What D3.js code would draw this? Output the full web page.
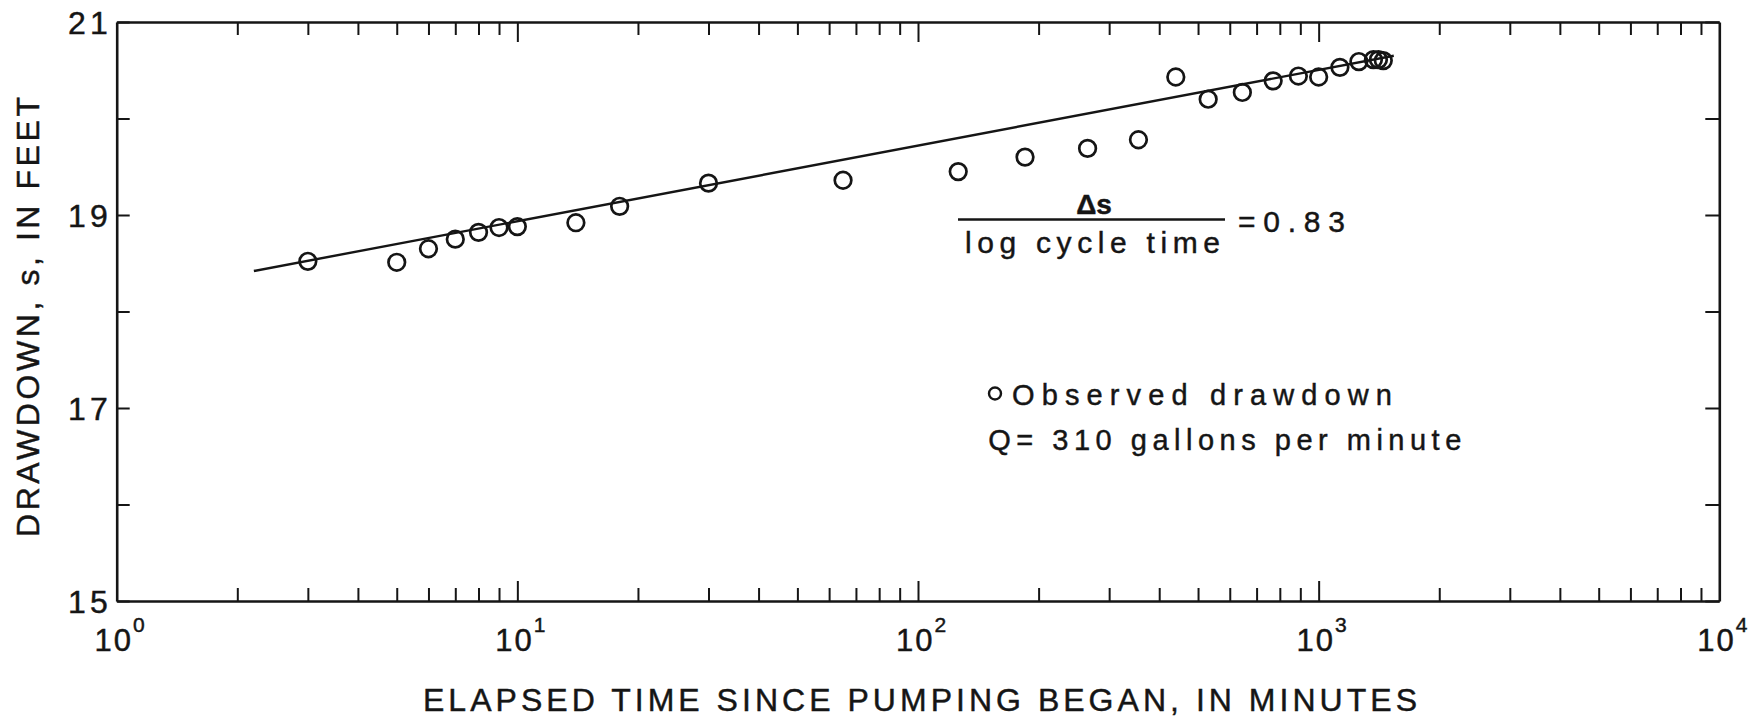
<!DOCTYPE html>
<html>
<head>
<meta charset="utf-8">
<script src="https://cdn.jsdelivr.net/npm/d3@7"></script>
<style>
  html, body { margin: 0; padding: 0; background: #ffffff; }
  svg { display: block; }
  text { font-family: "Liberation Sans", Arial, Helvetica, sans-serif; fill: #151515; stroke: #151515; stroke-width: 0.45px; }
</style>
</head>
<body>
<svg id="chart" width="1757" height="719"></svg>
<script>
// ---- data ----
const timeMin = [3, 5, 6, 7, 8, 9, 10, 14, 18, 30, 65, 126, 185, 265, 355, 440, 530, 645, 770, 890, 1000, 1130, 1260, 1370, 1410, 1450];
const drawdownFt = [18.52, 18.51, 18.65, 18.75, 18.82, 18.87, 18.88, 18.92, 19.09, 19.33, 19.36, 19.45, 19.60, 19.69, 19.78, 20.43, 20.20, 20.27, 20.39, 20.44, 20.43, 20.53, 20.59, 20.61, 20.61, 20.60];
const fitTime = [2.2, 1540];
const fitDrawdown = [18.42, 20.65];
const decades = [0, 1, 2, 3, 4];
const yTicks = [15, 16, 17, 18, 19, 20, 21];
const yLabelled = [15, 17, 19, 21];
const xTitle = "ELAPSED TIME SINCE PUMPING BEGAN, IN MINUTES";
const yTitle = "DRAWDOWN, s, IN FEET";
const slopeNum = "\u0394s";
const slopeDen = "log cycle time";
const slopeVal = "=0.83";
const legendLines = ["Observed drawdown", "Q= 310 gallons per minute"];

// ---- layout ----
const svg = d3.select("#chart");
const L = 116.7, R = 1719.3, T = 22, B = 601;
const x = d3.scaleLog().domain([1, 1e4]).range([L, R]);
const y = d3.scaleLinear().domain([15, 21]).range([B, T]);
const ink = "#151515";

const majorT = decades.map(k => Math.pow(10, k));
const minorT = [];
decades.slice(0, 4).forEach(k => { for (let m = 2; m <= 9; m++) minorT.push(m * Math.pow(10, k)); });

function styleAxis(g, domainWidth) {
  g.select(".domain").attr("stroke", ink).attr("stroke-width", domainWidth);
  g.selectAll(".tick line").attr("stroke", ink).attr("stroke-width", 2);
}

// bottom axis
const gb1 = svg.append("g").attr("transform", `translate(0,${B})`)
  .call(d3.axisBottom(x).tickValues(minorT).tickSize(-13).tickSizeOuter(0).tickFormat(""));
styleAxis(gb1, 2.6);
const gb2 = svg.append("g").attr("transform", `translate(0,${B})`)
  .call(d3.axisBottom(x).tickValues(majorT.slice(1, 4)).tickSize(-20).tickSizeOuter(0).tickFormat(""));
styleAxis(gb2, 0); gb2.select(".domain").remove();

// top axis
const gt1 = svg.append("g").attr("transform", `translate(0,${T})`)
  .call(d3.axisTop(x).tickValues(minorT).tickSize(-13).tickSizeOuter(0).tickFormat(""));
styleAxis(gt1, 2.6);
const gt2 = svg.append("g").attr("transform", `translate(0,${T})`)
  .call(d3.axisTop(x).tickValues(majorT.slice(1, 4)).tickSize(-20).tickSizeOuter(0).tickFormat(""));
styleAxis(gt2, 0); gt2.select(".domain").remove();

// left axis
const gl = svg.append("g").attr("transform", `translate(${L},0)`)
  .call(d3.axisLeft(y).tickValues(yTicks).tickSize(-13).tickSizeOuter(0).tickPadding(5)
    .tickFormat(d => yLabelled.includes(d) ? String(d) : ""));
styleAxis(gl, 2.6);
gl.selectAll(".tick text")
  .attr("font-size", 32).attr("fill", ink)
  .attr("font-family", "'Liberation Sans', Arial, sans-serif")
  .style("letter-spacing", "4px")
  .attr("dy", "0.36em");

// right axis
const gr = svg.append("g").attr("transform", `translate(${R},0)`)
  .call(d3.axisRight(y).tickValues(yTicks).tickSize(-14).tickSizeOuter(0).tickFormat(""));
styleAxis(gr, 2.6);

// x tick labels 10^k
const xl = svg.append("g").selectAll("text").data(decades).join("text")
  .attr("x", k => x(Math.pow(10, k)) + 3)
  .attr("y", 651)
  .attr("text-anchor", "middle")
  .attr("font-size", 31);
xl.append("tspan").text("10").style("letter-spacing", "2px");
xl.append("tspan").attr("dy", -19).attr("font-size", 21).text(k => String(k));

// fitted straight line
svg.append("path")
  .datum(fitTime.map((t, i) => [t, fitDrawdown[i]]))
  .attr("fill", "none").attr("stroke", ink).attr("stroke-width", 2.4)
  .attr("d", d3.line().x(d => x(d[0])).y(d => y(d[1])));

// observed points
svg.append("g").selectAll("circle")
  .data(timeMin.map((t, i) => [t, drawdownFt[i]]))
  .join("circle")
  .attr("cx", d => x(d[0])).attr("cy", d => y(d[1]))
  .attr("r", 8.3)
  .attr("fill", "none").attr("stroke", ink).attr("stroke-width", 2.7);

// axis titles
svg.append("text").attr("x", 423).attr("y", 711)
  .attr("font-size", 32).attr("textLength", 994).attr("lengthAdjust", "spacing")
  .text(xTitle);
svg.append("text").attr("transform", "translate(39,537) rotate(-90)")
  .attr("font-size", 32).attr("textLength", 440).attr("lengthAdjust", "spacing")
  .text(yTitle);

// slope annotation
svg.append("text").attr("x", 1094).attr("y", 213.5)
  .attr("text-anchor", "middle")
  .attr("font-size", 28).attr("font-weight", "bold")
  .text(slopeNum);
svg.append("line").attr("x1", 958).attr("x2", 1225).attr("y1", 219.5).attr("y2", 219.5)
  .attr("stroke", ink).attr("stroke-width", 2.4);
svg.append("text").attr("x", 965).attr("y", 252.5)
  .attr("font-size", 30).attr("textLength", 255).attr("lengthAdjust", "spacing")
  .text(slopeDen);
svg.append("text").attr("x", 1238).attr("y", 232)
  .attr("font-size", 30).attr("textLength", 107).attr("lengthAdjust", "spacing")
  .text(slopeVal);

// legend
svg.append("circle").attr("cx", 995).attr("cy", 393.5).attr("r", 6)
  .attr("fill", "none").attr("stroke", ink).attr("stroke-width", 2.4);
svg.append("text").attr("x", 1012).attr("y", 405)
  .attr("font-size", 29).attr("textLength", 380).attr("lengthAdjust", "spacing")
  .text(legendLines[0]);
svg.append("text").attr("x", 988.3).attr("y", 449.5)
  .attr("font-size", 29).attr("textLength", 473).attr("lengthAdjust", "spacing")
  .text(legendLines[1]);
</script>
</body>
</html>
